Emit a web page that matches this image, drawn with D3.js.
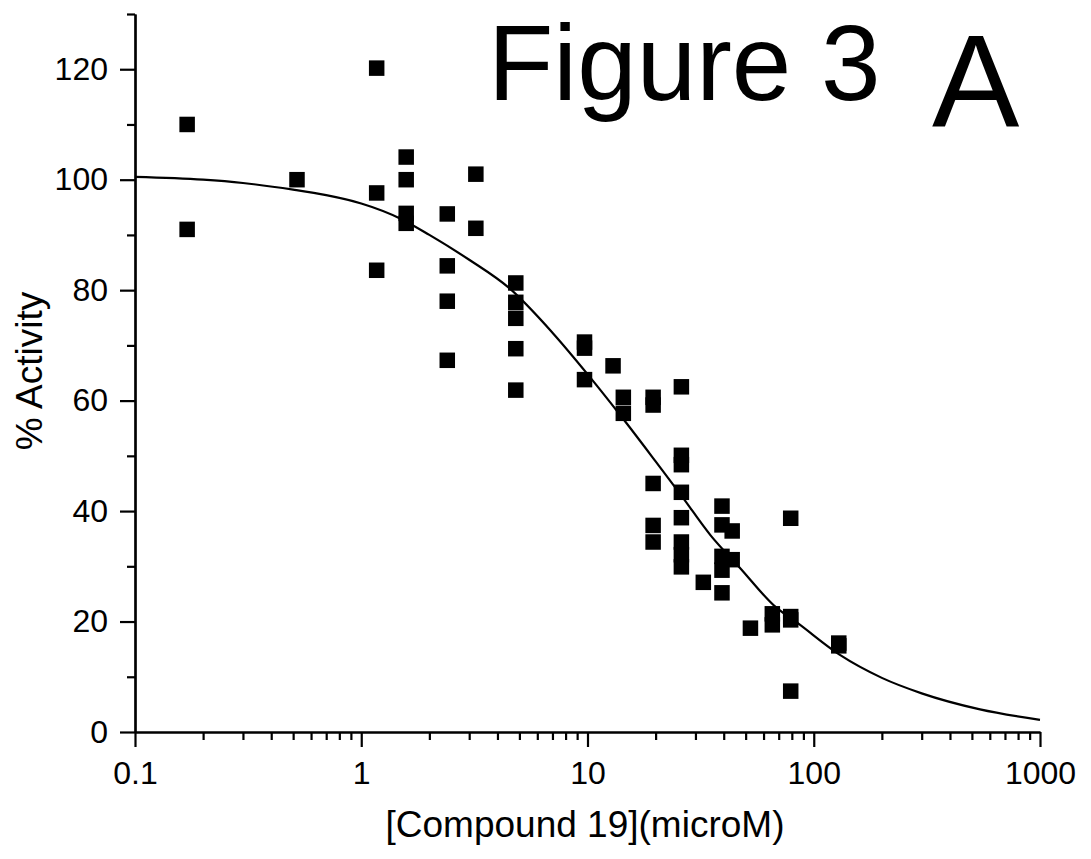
<!DOCTYPE html>
<html>
<head>
<meta charset="utf-8">
<script src="https://cdn.jsdelivr.net/npm/d3@7"></script>
<style>
  html, body { margin: 0; padding: 0; background: #fff; }
  svg { display: block; }
  text { font-family: Arial, "Liberation Sans", sans-serif; fill: #000; }
</style>
</head>
<body>
<svg id="chart" width="1091" height="859"></svg>
<script>
// Measured concentrations (microM) and % activity replicates
const concentrations = [
  0.17, 0.17,
  0.52,
  1.17, 1.17, 1.17,
  1.58, 1.58, 1.58, 1.58,
  2.40, 2.40, 2.40, 2.40,
  3.21, 3.21,
  4.82, 4.82, 4.82, 4.82, 4.82,
  9.70, 9.70, 9.70,
  12.97,
  14.4, 14.4,
  19.5, 19.5, 19.5, 19.5, 19.5,
  26.0, 26.0, 26.0, 26.0, 26.0, 26.0, 26.0, 26.0,
  32.5,
  39.3, 39.3, 39.3, 39.3, 39.3,
  43.6, 43.6,
  52.5,
  65.6, 65.6,
  79.1, 79.1, 79.1, 79.1,
  129, 129
];
const activity = [
  110.0, 91.0,
  100.0,
  120.2, 97.6, 83.6,
  104.1, 100.0, 93.9, 92.1,
  93.8, 84.4, 78.0, 67.3,
  101.0, 91.2,
  81.3, 77.8, 74.9, 69.4, 61.9,
  70.6, 69.5, 63.8,
  66.3,
  60.6, 57.7,
  60.6, 59.2, 45.0, 37.4, 34.4,
  62.5, 50.1, 48.4, 43.4, 38.8, 34.4, 32.1, 29.9,
  27.1,
  40.9, 37.5, 31.8, 29.3, 25.2,
  36.4, 31.2,
  18.8,
  21.4, 19.4,
  38.7, 20.9, 20.3, 7.4,
  16.1, 15.6
];

// Dose-response fit line, sampled along the concentration axis
const fitConc = [0.1, 0.2, 0.3, 0.5, 0.7, 1, 1.5, 2, 3, 4.5, 7, 10, 14, 20, 26, 35, 47, 68, 85, 130, 200, 300, 543, 1000];
const fitActivity = [100.5, 100.0, 99.4, 98.2, 97.2, 95.7, 92.9, 90.0, 85.5, 80.4, 72.3, 64.8, 57.3, 49.0, 42.8, 35.6, 29.8, 22.6, 19.7, 14.0, 9.8, 7.0, 4.1, 2.2];

// Axis ticks
const xMajorTicks = [0.1, 1, 10, 100, 1000];
const xTickLabels = ["0.1", "1", "10", "100", "1000"];
const yMajorTicks = [0, 20, 40, 60, 80, 100, 120];
const yMinorTicks = [10, 30, 50, 70, 90, 110, 130];

const svg = d3.select("#chart");

const x = d3.scaleLog().domain([0.1, 1000]).range([135, 1040]);
const y = d3.scaleLinear().domain([0, 130]).range([732, 14]);

// minor log ticks 2..9 in each decade
const xMinorTicks = [];
xMajorTicks.slice(0, -1).forEach(d => {
  for (let k = 2; k <= 9; k++) xMinorTicks.push(d * k);
});

const axisColor = "#000";

// X axis: minor ticks, then major ticks with labels
const gxMinor = svg.append("g").attr("transform", `translate(0,${y(0)})`)
  .call(d3.axisBottom(x).tickValues(xMinorTicks).tickSize(8).tickSizeOuter(0).tickFormat(""));
const gx = svg.append("g").attr("transform", `translate(0,${y(0)})`)
  .call(d3.axisBottom(x).tickValues(xMajorTicks).tickSize(15).tickSizeOuter(0).tickPadding(14)
    .tickFormat((d, i) => xTickLabels[i]));

// Y axis: minor ticks, then major ticks with labels
const gyMinor = svg.append("g").attr("transform", `translate(${x(0.1)},0)`)
  .call(d3.axisLeft(y).tickValues(yMinorTicks).tickSize(8).tickSizeOuter(0).tickFormat(""));
const gy = svg.append("g").attr("transform", `translate(${x(0.1)},0)`)
  .call(d3.axisLeft(y).tickValues(yMajorTicks).tickSize(15).tickSizeOuter(0).tickPadding(12)
    .tickFormat(d3.format("d")));

[gxMinor, gx, gyMinor, gy].forEach(g => {
  g.attr("font-size", 32).attr("font-family", "Arial, 'Liberation Sans', sans-serif");
  g.selectAll("path.domain").attr("stroke", axisColor).attr("stroke-width", 2.2);
  g.selectAll(".tick line").attr("stroke", axisColor).attr("stroke-width", 2.2);
  g.selectAll(".tick text")
    .attr("font-size", 32)
    .attr("fill", "#000");
});

// fitted curve
const line = d3.line()
  .x((d, i) => x(fitConc[i]))
  .y((d, i) => y(fitActivity[i]))
  .curve(d3.curveMonotoneX);

svg.append("path")
  .datum(fitConc)
  .attr("d", line)
  .attr("fill", "none")
  .attr("stroke", "#000")
  .attr("stroke-width", 2.2);

// data points as filled squares
const size = 15.5;
svg.append("g")
  .selectAll("rect")
  .data(concentrations)
  .join("rect")
  .attr("x", (d, i) => x(d) - size / 2)
  .attr("y", (d, i) => y(activity[i]) - size / 2)
  .attr("width", size)
  .attr("height", size)
  .attr("fill", "#000");

// axis titles
svg.append("text")
  .attr("x", 585)
  .attr("y", 837)
  .attr("text-anchor", "middle")
  .attr("font-size", 37)
  .text("[Compound 19](microM)");

svg.append("text")
  .attr("transform", "translate(42,371) rotate(-90)")
  .attr("text-anchor", "middle")
  .attr("font-size", 37)
  .text("% Activity");

// panel heading
svg.append("text")
  .attr("x", 488)
  .attr("y", 100)
  .attr("font-size", 107)
  .text("Figure 3");

svg.append("text")
  .attr("x", 932)
  .attr("y", 127)
  .attr("font-size", 131)
  .text("A");
</script>
</body>
</html>
